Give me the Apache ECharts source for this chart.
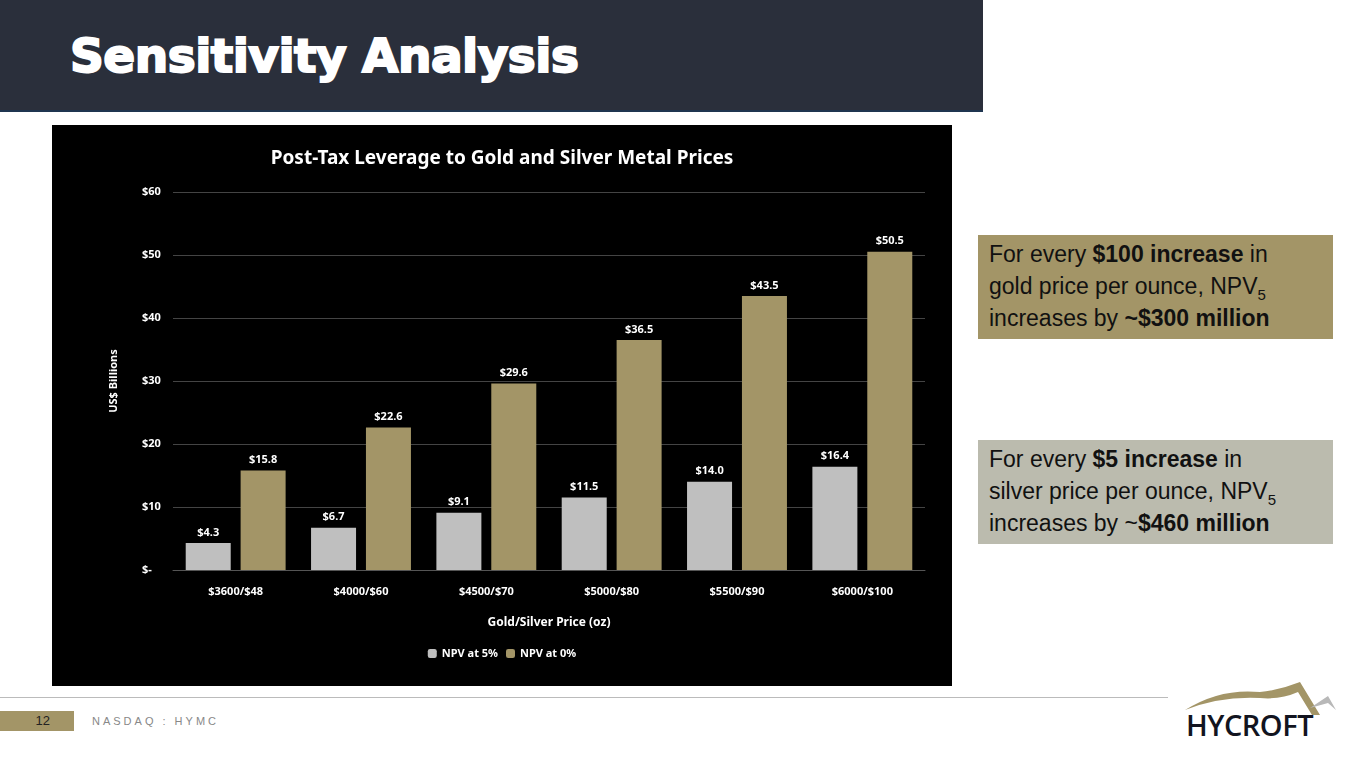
<!DOCTYPE html>
<html><head><meta charset="utf-8">
<script src="https://cdn.jsdelivr.net/npm/echarts@6/dist/echarts.min.js"></script>
<style>
body{margin:0;width:1364px;height:766px;position:relative;background:#fff;font-family:"Liberation Sans",Arial,sans-serif;overflow:hidden}
#hdr{position:absolute;left:0;top:0;width:983px;height:110px;background:#2a2f3b;border-bottom:2px solid #1f3550}
#hdr h1{margin:0;position:absolute;left:70px;top:28px;font-family:"DejaVu Sans";font-weight:900;font-size:47px;color:#fff;letter-spacing:-0.5px;-webkit-text-stroke:2px #fff}
#chart{position:absolute;left:52px;top:125px;width:900px;height:561px;background:#000}
.box{position:absolute;left:978px;width:355px;font-size:23px;line-height:32px;color:#111;padding:3px 0 0 11px;box-sizing:border-box;white-space:nowrap}
.box sub{font-size:15px;line-height:0}
#b1{top:235px;height:104px;background:#a39567}
#b2{top:440px;height:104px;background:#bbbbae}
#line{position:absolute;left:0;top:697px;width:1168px;height:1px;background:#bbb}
#pg{position:absolute;left:0;top:711px;width:74px;height:20px;background:#a39567;font-size:13px;text-align:right;box-sizing:border-box;padding:2px 24px 0 0;color:#222}
#nas{position:absolute;left:92px;top:715px;font-size:11px;letter-spacing:3px;color:#888}
#logo{position:absolute;left:1186px;top:705px;font-family:"Open Sans";font-weight:600;font-size:29px;color:#121420;letter-spacing:-0.5px}
</style></head><body>
<div id="hdr"><h1>Sensitivity Analysis</h1></div>
<div id="chart"></div>
<div class="box" id="b1">For every <b>$100 increase</b> in<br>gold price per ounce, NPV<sub>5</sub><br>increases by <b>~$300 million</b></div>
<div class="box" id="b2">For every <b>$5 increase</b> in<br>silver price per ounce, NPV<sub>5</sub><br>increases by ~<b>$460 million</b></div>
<div id="line"></div>
<div id="pg">12</div>
<div id="nas">NASDAQ : HYMC</div>
<svg style="position:absolute;left:1180px;top:670px" width="160" height="50">
<path d="M5 40 Q40 18 80 22 Q100 20 120 12 L140 45 L132 45 L118 22 Q100 30 80 28 Q40 26 5 40Z" fill="#a39567"/>
<path d="M130 38 L148 26 L156 40 L148 33 Z" fill="#b8b8b8"/>
</svg>
<div id="logo">HYCROFT</div>
<script>
const categories=["$3600/$48","$4000/$60","$4500/$70","$5000/$80","$5500/$90","$6000/$100"];
const npv5=[4.3,6.7,9.1,11.5,14.0,16.4];
const npv0=[15.8,22.6,29.6,36.5,43.5,50.5];
const yTicks=[0,10,20,30,40,50,60];
const c=echarts.init(document.getElementById('chart'));
const lbl={show:true,position:'top',color:'#fff',fontSize:11,fontWeight:'bold',fontFamily:'Noto Sans',formatter:p=>'$'+p.value.toFixed(1)};
c.setOption({
 backgroundColor:'#000',animation:false,
 title:{text:'Post-Tax Leverage to Gold and Silver Metal Prices',left:'center',top:19,textStyle:{color:'#fff',fontSize:19,fontWeight:'bold',fontFamily:'Noto Sans'}},
 grid:{left:121,right:27,top:67,bottom:116},
 legend:{bottom:22,itemWidth:9,itemHeight:9,textStyle:{color:'#fff',fontSize:11,fontWeight:'bold',fontFamily:'Noto Sans'},data:['NPV at 5%','NPV at 0%']},
 xAxis:{type:'category',data:categories,name:'Gold/Silver Price (oz)',nameLocation:'middle',nameGap:47,nameTextStyle:{color:'#fff',fontSize:12,fontWeight:'bold',fontFamily:'Noto Sans'},axisTick:{show:false},axisLine:{lineStyle:{color:'#555'}},axisLabel:{color:'#fff',fontSize:11,fontWeight:'bold',margin:16,fontFamily:'Noto Sans'}},
 yAxis:{type:'value',min:0,max:60,interval:10,name:'US$ Billions',nameLocation:'middle',nameGap:54,nameTextStyle:{color:'#fff',fontSize:11,fontWeight:'bold',fontFamily:'Noto Sans'},splitLine:{lineStyle:{color:'#444'}},axisLabel:{color:'#fff',fontSize:11,fontWeight:'bold',margin:31,align:'left',fontFamily:'Noto Sans',formatter:v=>yTicks.includes(v)?(v===0?'$-':'$'+v):''}},
 series:[
  {name:'NPV at 5%',type:'bar',data:npv5,barWidth:45,barGap:'22%',itemStyle:{color:'#bfbfbf'},label:lbl},
  {name:'NPV at 0%',type:'bar',data:npv0,barWidth:45,itemStyle:{color:'#a39567'},label:lbl}
 ]
});
</script></body></html>
